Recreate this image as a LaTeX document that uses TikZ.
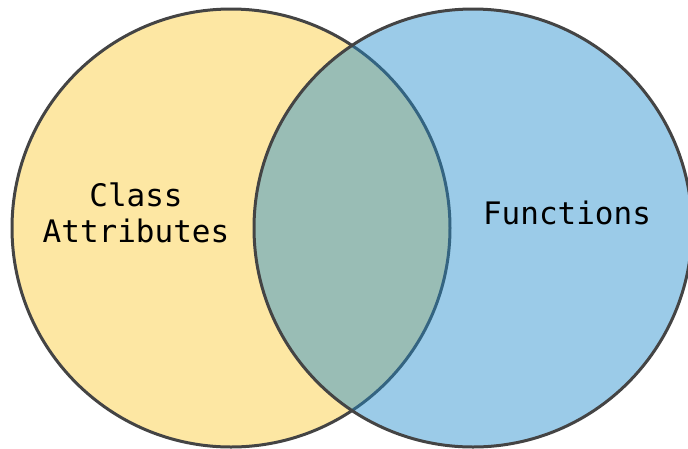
\documentclass[tikz,border=0pt]{standalone}
\usepackage{fontspec}
\setmonofont{DejaVu Sans Mono}
\definecolor{venyellow}{RGB}{253,231,163}
\definecolor{venblue}{RGB}{33,140,205}
\definecolor{venedge}{RGB}{68,68,68}
\begin{document}
\begin{tikzpicture}[x=1pt,y=-1pt,
  setcircle/.style={draw=venedge,line width=3pt},
  label/.style={font=\ttfamily\fontsize{31}{36}\selectfont,align=center,text=black}]
\useasboundingbox (0,0) rectangle (688,448);
\begin{scope}
\clip (0,0) rectangle (688,448);
\path[setcircle,fill=venyellow] (231,228) circle[radius=219];
\path[setcircle,fill=venblue,fill opacity=0.45] (473,228) circle[radius=219];
\end{scope}
\node[label] (cls) at (136,213) {Class\\Attributes};
\node[label] (fun) at (567,213) {Functions};
\end{tikzpicture}
\end{document}
